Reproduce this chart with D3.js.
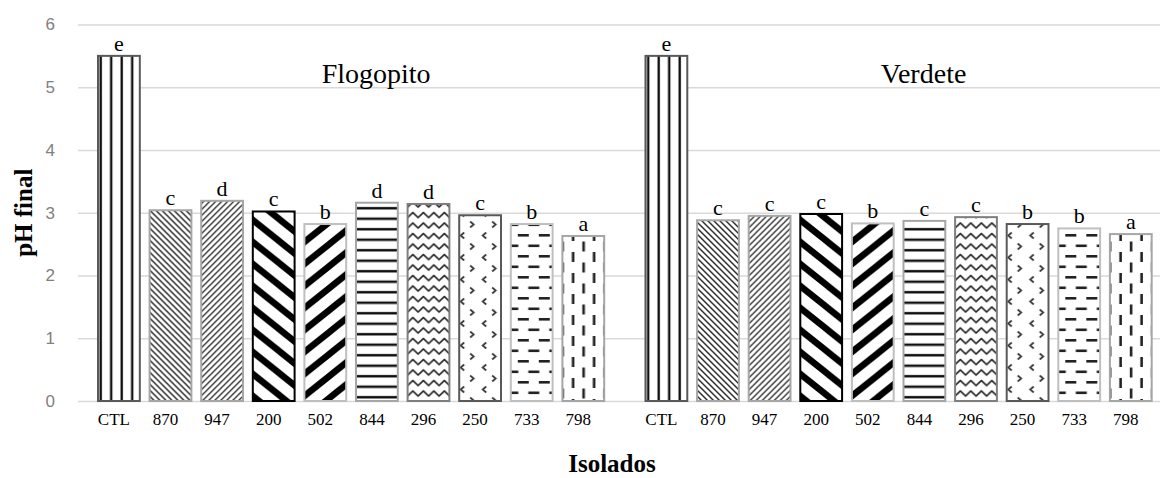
<!DOCTYPE html>
<html><head><meta charset="utf-8">
<script src="https://cdn.jsdelivr.net/npm/d3@7"></script>
<style>html,body{margin:0;padding:0;background:#fff;}svg{display:block;}</style>
</head><body>
<script>
const isolates = ["CTL","870","947","200","502","844","296","250","733","798"];
const groups = ["Flogopito","Verdete"];
const flogopitoPH = [5.50,3.04,3.19,3.02,2.82,3.16,3.14,2.96,2.82,2.63];
const verdetePH   = [5.50,2.88,2.95,2.98,2.83,2.87,2.93,2.82,2.75,2.66];
const flogopitoLetters = ["e","c","d","c","b","d","d","c","b","a"];
const verdeteLetters   = ["e","c","c","c","b","c","c","b","b","a"];
const yTicks = [0,1,2,3,4,5,6];
const yLabel = "pH final";
const xLabel = "Isolados";

const seriesByGroup = {Flogopito: flogopitoPH, Verdete: verdetePH};
const lettersByGroup = {Flogopito: flogopitoLetters, Verdete: verdeteLetters};

const W = 1160, H = 478;
const serif = "'Liberation Serif','Times New Roman',serif";
const svg = d3.select("body").append("svg").attr("width", W).attr("height", H);
const defs = svg.append("defs");

const y = d3.scaleLinear().domain([0, 6]).range([401, 24.5]);
const xGroup = d3.scaleBand().domain(groups).range([93.1, 1156.6]).paddingInner(0.0575).paddingOuter(0);
const xInner = d3.scaleBand().domain(isolates).range([0, xGroup.bandwidth()]).paddingInner(0.19).paddingOuter(0.095);

// ---- patterns ----
function pat(id, w, h) {
  return defs.append("pattern").attr("id", id).attr("patternUnits", "userSpaceOnUse")
    .attr("width", w).attr("height", h);
}
// 0 wide vertical
pat("p0", 10.5, 10.5).append("rect").attr("x", 1.5).attr("y", 0).attr("width", 2.4).attr("height", 10.5).attr("fill", "#111");
// 1 light downward diagonal
pat("p1", 6, 6).append("path").attr("d", "M-1,-1L7,7M-1,5L1,7M5,-1L7,1").attr("stroke", "#222").attr("stroke-width", 1.4).attr("fill", "none");
// 2 light upward diagonal
pat("p2", 6, 6).append("path").attr("d", "M-1,7L7,-1M-1,1L1,-1M5,7L7,5").attr("stroke", "#333").attr("stroke-width", 1.4).attr("fill", "none");
// 3 wide downward diagonal
(function(){
  const w = 27.5, h = 22, p = pat("p3", w, h);
  let d = "";
  [-1,0,1].forEach(k => { d += `M${k*w - w*0.3},${-h*0.3}L${k*w + w*1.3},${h*1.3}`; });
  p.append("path").attr("d", d).attr("stroke", "#000").attr("stroke-width", 6.5).attr("fill", "none");
})();
// 4 wide upward diagonal
(function(){
  const w = 27.5, h = 22, p = pat("p4", w, h);
  let d = "";
  [-1,0,1].forEach(k => { d += `M${k*w - w*0.3},${h*1.3}L${k*w + w*1.3},${-h*0.3}`; });
  p.append("path").attr("d", d).attr("stroke", "#000").attr("stroke-width", 6.5).attr("fill", "none");
})();
// 5 horizontal
pat("p5", 10.5, 10.5).append("rect").attr("x", 0).attr("y", 7.5).attr("width", 10.5).attr("height", 2.5).attr("fill", "#111");
// 6 wave
pat("p6", 10.5, 10.5).append("path").attr("d", "M-5.25,2.5L0,7.5L5.25,2.5L10.5,7.5L15.75,2.5")
  .attr("stroke", "#222").attr("stroke-width", 1.7).attr("fill", "none").attr("stroke-linejoin", "round");
// 7 divot
pat("p7", 22, 22).append("path").attr("d", "M11,1.5L14.5,4.5L11,7.5M5,12.5L1.5,15.5L5,18.5")
  .attr("stroke", "#333").attr("stroke-width", 1.7).attr("fill", "none");
// 8 dashed horizontal
(function(){
  const p = pat("p8", 21, 21);
  [[7,3],[17.5,13.5],[-3.5,13.5]].forEach(([a,b]) => p.append("rect").attr("x", a).attr("y", b).attr("width", 11).attr("height", 2.6).attr("fill", "#222"));
})();
// 9 dashed vertical
(function(){
  const p = pat("p9", 21, 21);
  [[9.4,0],[19.9,10.5],[-1.1,10.5]].forEach(([a,b]) => p.append("rect").attr("x", a).attr("y", b).attr("width", 2.6).attr("height", 10).attr("fill", "#222"));
})();

const borderColors = ["#595959","#a6a6a6","#a6a6a6","#000000","#bfbfbf","#a6a6a6","#7f7f7f","#595959","#bfbfbf","#a6a6a6"];

// ---- gridlines + y axis ----
const yAxis = d3.axisLeft(y).tickValues(yTicks).tickFormat(d3.format("d"))
  .tickSize(-(W - 78)).tickPadding(23);
const gy = svg.append("g").attr("transform", "translate(78,0)").call(yAxis);
gy.select(".domain").remove();
gy.selectAll(".tick line").attr("stroke", "#d9d9d9").attr("stroke-width", 1.5);
gy.selectAll(".tick text").attr("fill", "#808080").attr("font-family", "'Liberation Sans',Arial,sans-serif").attr("font-size", 17);

// ---- bars ----
groups.forEach(g => {
  const vals = seriesByGroup[g], lets = lettersByGroup[g];
  const gg = svg.append("g").attr("transform", `translate(${xGroup(g)},0)`);
  const bars = gg.selectAll("g.bar").data(isolates).join("g").attr("class", "bar")
    .attr("transform", d => `translate(${xInner(d)},0)`);
  bars.append("rect").attr("x", 0).attr("y", (d,i) => y(vals[i])).attr("width", xInner.bandwidth())
    .attr("height", (d,i) => y(0) - y(vals[i])).attr("fill", "#fff");
  bars.append("rect").attr("x", 0).attr("y", (d,i) => y(vals[i])).attr("width", xInner.bandwidth())
    .attr("height", (d,i) => y(0) - y(vals[i])).attr("fill", (d,i) => `url(#p${i})`)
    .attr("stroke", (d,i) => borderColors[i]).attr("stroke-width", 2);
  bars.append("text").attr("x", xInner.bandwidth()/2).attr("y", (d,i) => y(vals[i]) - 5)
    .attr("text-anchor", "middle").attr("font-family", serif).attr("font-size", 22).attr("fill", "#000")
    .text((d,i) => lets[i]);

  // x tick labels
  const xAxis = d3.axisBottom(xInner).tickSize(0).tickPadding(12);
  const gx = svg.append("g").attr("transform", `translate(${xGroup(g) - 5},${y(0)})`).call(xAxis);
  gx.select(".domain").remove();
  gx.selectAll(".tick text").attr("font-family", serif).attr("font-size", 17).attr("fill", "#000");

  // group title
  svg.append("text").attr("x", xGroup(g) + xGroup.bandwidth()/2 + 25).attr("y", 83)
    .attr("text-anchor", "middle").attr("font-family", serif).attr("font-size", 28).attr("fill", "#000").text(g);
});

// axis titles
svg.append("text").attr("transform", `translate(32,${(y(0)+y(6))/2}) rotate(-90)`)
  .attr("text-anchor", "middle").attr("font-family", serif).attr("font-weight", "bold").attr("font-size", 25).text(yLabel);
svg.append("text").attr("x", 612).attr("y", 472)
  .attr("text-anchor", "middle").attr("font-family", serif).attr("font-weight", "bold").attr("font-size", 25).text(xLabel);
</script>
</body></html>
